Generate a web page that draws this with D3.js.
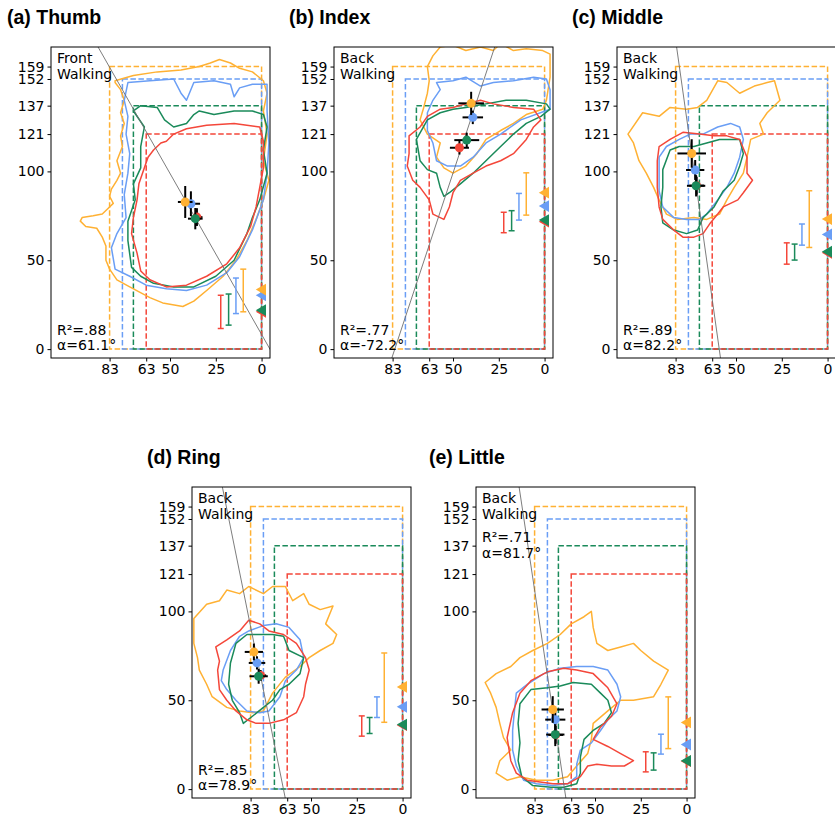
<!DOCTYPE html>
<html><head><meta charset="utf-8">
<script src="https://cdn.jsdelivr.net/npm/d3@7"></script>
<style>body{margin:0;background:#fff}</style>
</head><body>
<svg id="chart" width="835" height="821"></svg>
<script>
// ---------- data ----------
const titles = ["(a) Thumb", "(b) Index", "(c) Middle", "(d) Ring", "(e) Little"];
const sideLabel = ["Front", "Back", "Back", "Back", "Back"];
const condLabel = ["Walking", "Walking", "Walking", "Walking", "Walking"];
const r2Labels = ["R\u00b2=.88", "R\u00b2=.77", "R\u00b2=.89", "R\u00b2=.85", "R\u00b2=.71"];
const alphaDeg = [61.1, -72.2, 82.2, 78.9, 81.7];
const lineAnchor = [[38.5, 78], [42, 124], [73, 101], [78.6, 69], [72.2, 38]];

const xTicks = [83, 63, 50, 25, 0];
const yTicks = [0, 50, 100, 121, 137, 152, 159];

// colour order: orange, blue, green, red
const colors = ["#ffb133", "#6a9ef5", "#1a8a5a", "#f4473a"];
const boxX = [83, 76, 70, 63];
const boxY = [159, 152, 137, 121];
const beamX = [10, 14, 18, 22.3];

// contours  [x, y]
const thumbOrange = [[80,150],[80,151],[70,154],[57,156],[44,157],[34,159],[28,161],[23,163],[17,161],[12,158],[5,156],[-1,151],[-3,144],[-1,134],[-3,121],[-1,106],[-4,95],[-1,84],[3,73],[8,61],[14,50],[21,41],[30,33],[37,27],[43,24],[54,26],[61,29],[72,35],[79,39],[83,45],[85,50],[85,58],[87,63],[90,68],[96,69],[99,72],[98,74],[92,75],[87,76],[84,79],[81,82],[83,86],[82,90],[79,95],[77,99],[79,106],[76,114],[77,120],[75,127],[77,133],[75,140],[77,146]];
const thumbBlue = [[75,140],[73,150],[61,151],[48,152],[44,144],[41,140],[37,150],[26,151],[17,149],[15,142],[12,147],[5,149],[-3,149],[-3,134],[-4,116],[-3,99],[-1,84],[5,67],[12,52],[19,43],[30,36],[41,33],[52,34],[63,36],[72,41],[80,45],[82,57],[79,65],[74,74],[75,87],[73,99],[72,110],[74,121],[73,131]];
const thumbGreen = [[70,134],[66,137],[57,136],[53,129],[48,125],[41,127],[37,132],[34,134],[26,132],[15,134],[5,134],[-1,132],[-3,125],[-1,112],[-3,99],[1,84],[5,74],[8,65],[15,50],[25,41],[37,35],[48,35],[59,37],[66,41],[71,46],[73,61],[73,72],[69,84],[70,93],[66,102],[66,114],[64,125]];
const thumbRed = [[62,108],[59,112],[55,116],[52,117],[48,121],[41,124],[30,126],[15,127],[1,125],[-1,117],[-1,102],[1,91],[3,80],[6,69],[12,57],[19,48],[30,41],[41,36],[52,35],[61,39],[66,44],[68,54],[71,65],[70,74],[68,84],[67,93],[64,102]];

const indexOrange = [[64,159],[61,165],[57,170],[50,171],[43,168],[35,170],[28,168],[24,172],[17,168],[10,169],[1,168],[-3,166],[-3,153],[-1,140],[1,135],[10,132],[17,127],[24,123],[32,118],[37,110],[43,103],[50,99],[55,102],[59,108],[57,116],[64,121],[68,129],[66,136],[64,144],[63,151]];
const indexBlue = [[59,150],[50,151],[43,153],[35,148],[28,150],[17,151],[6,153],[-1,152],[-3,146],[-3,135],[13,129],[24,121],[32,116],[39,108],[46,103],[53,103],[59,106],[61,116],[64,123],[64,133],[61,140],[57,146]];
const indexGreen = [[70,118],[64,129],[57,133],[50,135],[43,136],[32,138],[21,140],[10,140],[-1,138],[-3,135],[2,131],[10,127],[17,121],[24,114],[32,106],[39,99],[46,93],[52,88],[55,86],[57,91],[59,99],[64,101],[68,106]];
const indexRed = [[74,120],[68,125],[64,131],[57,135],[50,136],[43,138],[35,140],[28,138],[17,136],[6,135],[2,129],[6,125],[10,118],[17,110],[24,106],[32,103],[39,99],[46,95],[50,88],[52,80],[55,73],[61,76],[63,84],[68,91],[72,95],[75,103],[74,110]];

const middleOrange = [[109,121],[101,133],[92,131],[86,136],[77,135],[71,136],[66,140],[60,151],[55,150],[48,144],[40,148],[33,150],[29,151],[26,140],[33,133],[37,127],[35,121],[42,118],[44,108],[46,99],[51,91],[55,84],[59,76],[66,73],[73,74],[82,73],[88,76],[92,84],[95,91],[99,99],[103,106],[106,116]];
const middleBlue = [[92,108],[88,114],[81,118],[75,121],[68,121],[60,125],[53,127],[48,125],[46,118],[48,108],[51,99],[55,91],[60,84],[66,76],[70,73],[77,73],[84,74],[90,80],[92,89],[92,99]];
const middleGreen = [[90,101],[86,112],[81,114],[73,114],[66,116],[59,118],[48,118],[46,110],[48,103],[51,95],[57,89],[62,80],[68,74],[71,67],[77,65],[84,67],[90,71],[91,80],[90,91]];
const middleRed = [[93,106],[92,114],[86,118],[79,122],[70,121],[62,120],[55,120],[48,118],[44,108],[44,99],[41,95],[46,88],[49,84],[57,80],[60,76],[64,71],[68,65],[73,63],[79,63],[84,67],[90,73],[92,80],[93,91]];

const ringOrange = [[114,96],[107,104],[100,106],[96,112],[89,110],[84,114],[76,110],[71,114],[64,114],[60,106],[54,110],[51,104],[45,101],[38,103],[42,93],[36,87],[38,82],[45,78],[51,74],[56,69],[64,63],[71,54],[76,44],[82,43],[89,44],[96,46],[104,52],[107,59],[111,67],[112,74],[114,82],[114,89]];
const ringBlue = [[98,67],[94,78],[89,86],[84,89],[76,92],[69,93],[62,91],[56,84],[54,74],[58,67],[64,61],[67,52],[73,44],[78,43],[85,44],[91,50],[96,56],[99,61]];
const ringGreen = [[94,71],[91,82],[85,87],[78,87],[71,87],[65,86],[62,78],[54,74],[56,65],[62,59],[67,56],[71,50],[76,46],[82,41],[87,37],[89,43],[93,50],[95,59]];
const ringRed = [[102,80],[96,84],[89,89],[84,95],[78,93],[73,89],[65,87],[58,82],[53,74],[51,67],[53,59],[54,52],[58,43],[65,39],[73,37],[80,37],[85,39],[91,44],[96,50],[100,56],[101,67],[100,72]];

const littleOrange = [[110,60],[104,65],[96,69],[91,74],[84,78],[76,82],[69,87],[63,93],[56,97],[52,100],[51,91],[49,82],[43,78],[36,80],[29,82],[25,78],[18,72],[10,67],[14,59],[18,52],[29,50],[36,50],[43,44],[51,37],[52,28],[54,20],[60,13],[65,7],[73,5],[82,5],[91,7],[98,5],[104,9],[102,16],[96,22],[100,29],[102,37],[104,46],[107,54]];
const littleBlue = [[93,54],[87,59],[78,65],[69,68],[60,69],[51,69],[43,67],[38,59],[36,52],[38,44],[43,39],[47,33],[52,26],[58,22],[60,14],[60,7],[65,3],[73,2],[82,3],[89,5],[93,13],[95,22],[95,33],[94,44]];
const littleGreen = [[91,48],[85,56],[76,57],[69,58],[62,60],[52,59],[47,54],[43,50],[41,43],[45,37],[51,33],[56,28],[58,18],[58,9],[60,3],[67,1],[74,1],[84,2],[90,7],[92,16],[91,26],[92,37]];
const littleRed = [[98,29],[95,43],[91,54],[85,61],[76,66],[67,68],[60,67],[51,65],[43,57],[38,48],[41,41],[47,35],[51,28],[43,24],[36,20],[29,16],[34,13],[41,13],[49,14],[54,13],[58,7],[65,3],[73,3],[80,4],[87,5],[93,9],[96,16]];

const contours = [
  [thumbOrange, thumbBlue, thumbGreen, thumbRed],
  [indexOrange, indexBlue, indexGreen, indexRed],
  [middleOrange, middleBlue, middleGreen, middleRed],
  [ringOrange, ringBlue, ringGreen, ringRed],
  [littleOrange, littleBlue, littleGreen, littleRed]
];

// means with error (orange, blue, green, red)
const meanX = [[41.7, 38.6, 36.2, 35.3], [40.1, 39.2, 42.5, 46.5], [74.2, 72.3, 71.8, 71.5], [81.2, 79.5, 78.6, 77.5], [73.1, 71.7, 71.7, 71.5]];
const meanY = [[82.8, 81.8, 73.4, 74.3], [138.3, 130.4, 117.6, 113.3], [110.1, 100.8, 91.9, 92.0], [77.2, 71.0, 63.5, 64.0], [44.8, 39.1, 30.7, 30.5]];
const errX = [[4, 5, 4, 3], [7, 5.6, 6.8, 5.2], [7.8, 5, 5, 4], [5, 4.5, 5, 3], [6.1, 5.5, 5, 4]];
const errY = [[9, 7, 6, 5], [6.5, 3.8, 4.2, 3.8], [8, 5.6, 6, 5], [4.7, 3.7, 4.2, 3], [7.5, 6, 6.5, 5]];

// right-side ranges and markers (orange, blue, green, red)
const beamLo = [[21, 20, 13.5, 11.6], [75.4, 72.6, 66.6, 65.5], [57.2, 58.5, 50.1, 47.8], [37.6, 40.3, 31.3, 29.8], [22.8, 19.7, 10.7, 9.7]];
const beamHi = [[45, 40, 31, 30.3], [99.2, 87.6, 77.9, 77], [89.1, 70.4, 59.1, 59.8], [76.6, 51.9, 40.3, 41.2], [51.9, 30.9, 20.4, 21]];
const triY = [[33.5, 30.3, 21.9, 21], [88, 80.5, 72.6, 71.7], [73.2, 64.5, 54.8, 54.2], [57.5, 46.3, 36.3, 36], [37.5, 25.1, 15.9, 15.7]];

// ---------- layout ----------
const W = 219, H = 311;
const pos = [[51, 47], [334, 47], [617, 47], [192, 487], [476, 487]];
const titlePos = [[7, 24], [289, 24], [572, 24], [147, 464], [429, 464]];
const font = "'DejaVu Sans', sans-serif";

const svg = d3.select("#chart");
const x = d3.scaleLinear().domain([115, -4.6]).range([0, W]);
const y = d3.scaleLinear().domain([-5, 170]).range([H, 0]);
const line = d3.line().x(d => x(d[0])).y(d => y(d[1])).curve(d3.curveLinearClosed);

titles.forEach((t, i) => {
  svg.append("text").attr("x", titlePos[i][0]).attr("y", titlePos[i][1])
    .attr("font-family", "'Liberation Sans', Arial, sans-serif").attr("font-weight", "bold")
    .attr("font-size", 19.5).text(t);

  const g = svg.append("g").attr("transform", `translate(${pos[i][0]},${pos[i][1]})`);
  const cid = "clip" + i;
  g.append("clipPath").attr("id", cid).append("rect").attr("width", W).attr("height", H);
  const p = g.append("g").attr("clip-path", `url(#${cid})`);

  // dashed boxes
  [0, 1, 2, 3].forEach(k => {
    p.append("rect")
      .attr("x", x(boxX[k])).attr("y", y(boxY[k]))
      .attr("width", x(0) - x(boxX[k])).attr("height", y(0) - y(boxY[k]))
      .attr("fill", "none").attr("stroke", colors[k]).attr("stroke-width", 1.5)
      .attr("stroke-dasharray", "5.5,2.5");
  });

  // contours
  [0, 1, 2, 3].forEach(k => {
    p.append("path").attr("d", line(contours[i][k]))
      .attr("fill", "none").attr("stroke", colors[k]).attr("stroke-width", 1.5)
      .attr("stroke-linejoin", "round");
  });

  // regression line
  const slope = Math.tan(alphaDeg[i] * Math.PI / 180);
  const [ax, ay] = lineAnchor[i];
  const ys = [-20, 190];
  p.append("line")
    .attr("x1", x(ax + (ys[0] - ay) / slope)).attr("y1", y(ys[0]))
    .attr("x2", x(ax + (ys[1] - ay) / slope)).attr("y2", y(ys[1]))
    .attr("stroke", "#6e6e6e").attr("stroke-width", 0.9);

  // range beams
  [3, 2, 1, 0].forEach(k => {
    const bx = x(beamX[k]);
    const b = p.append("g").attr("stroke", colors[k]).attr("stroke-width", 1.5);
    b.append("line").attr("x1", bx).attr("x2", bx).attr("y1", y(beamLo[i][k])).attr("y2", y(beamHi[i][k]));
    [beamLo[i][k], beamHi[i][k]].forEach(v => b.append("line").attr("x1", bx - 3).attr("x2", bx + 3).attr("y1", y(v)).attr("y2", y(v)));
  });

  // triangles at x = 0
  [3, 2, 1, 0].forEach(k => {
    p.append("path").attr("d", d3.symbol(d3.symbolTriangle, 60)())
      .attr("transform", `translate(${x(0) + 1},${y(triY[i][k])}) rotate(-90)`)
      .attr("fill", colors[k]);
  });

  // means with error bars
  [3, 2, 1, 0].forEach(k => {
    const mx = meanX[i][k], my = meanY[i][k];
    const e = p.append("g").attr("stroke", "#000").attr("stroke-width", 2);
    e.append("line").attr("x1", x(mx - errX[i][k])).attr("x2", x(mx + errX[i][k])).attr("y1", y(my)).attr("y2", y(my));
    e.append("line").attr("x1", x(mx)).attr("x2", x(mx)).attr("y1", y(my - errY[i][k])).attr("y2", y(my + errY[i][k]));
    p.append("circle").attr("cx", x(mx)).attr("cy", y(my)).attr("r", 4.5).attr("fill", colors[k]);
  });

  // frame
  g.append("rect").attr("width", W).attr("height", H).attr("fill", "none").attr("stroke", "#000").attr("stroke-width", 1);

  // axes
  const ax1 = g.append("g").call(d3.axisLeft(y).tickValues(yTicks).tickSize(3.5).tickPadding(3));
  const ax2 = g.append("g").attr("transform", `translate(0,${H})`).call(d3.axisBottom(x).tickValues(xTicks).tickSize(3.5).tickPadding(3));
  [ax1, ax2].forEach(a => {
    a.select(".domain").remove();
    a.selectAll("text").attr("font-family", font).attr("font-size", 14).attr("fill", "#000");
    a.selectAll("line").attr("stroke", "#000");
  });

  // annotations
  const tg = g.append("g").attr("font-family", font).attr("font-size", 14).attr("fill", "#000");
  tg.append("text").attr("x", 6).attr("y", 15.5).text(sideLabel[i]);
  tg.append("text").attr("x", 6).attr("y", 31.5).text(condLabel[i]);
  const ry = i === 4 ? [55, 71] : [H - 23.5, H - 8];
  tg.append("text").attr("x", 6).attr("y", ry[0]).text(r2Labels[i]);
  tg.append("text").attr("x", 6).attr("y", ry[1]).text("\u03b1=" + alphaDeg[i] + "\u00b0");
});
</script>
</body></html>
